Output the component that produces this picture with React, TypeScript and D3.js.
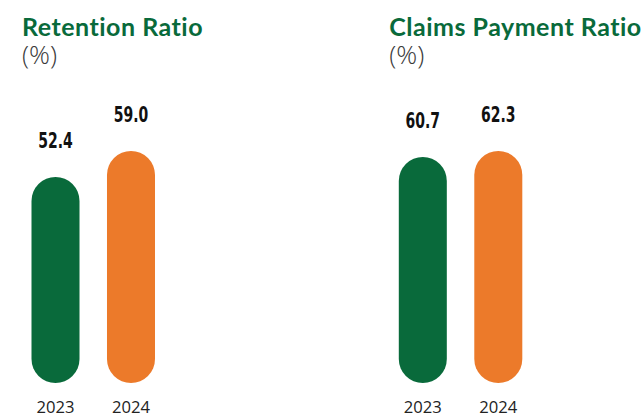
import React from "react";
import * as d3 from "d3";

const years = ["2023", "2024"];
const retentionValues = [52.4, 59.0];
const claimsValues = [60.7, 62.3];
const panelTitles = ["Retention Ratio", "Claims Payment Ratio"];
const unitLabel = "(%)";

const GREEN = "#096a3b";
const ORANGE = "#ec7a2a";
const barColors = [GREEN, ORANGE];

const W = 642;
const H = 415;

type PanelProps = { x0: number; title: string; values: number[] };

function Panel({ x0, title, values }: PanelProps) {
  const x = d3
    .scaleBand<string>()
    .domain(years)
    .range([x0 + 9.5, x0 + 133])
    .paddingInner(0.364)
    .paddingOuter(0);
  const y = d3
    .scaleLinear()
    .domain([0, d3.max(values) as number])
    .range([383, 151]);
  const bw = x.bandwidth();
  return (
    <g>
      <text
        x={x0}
        y={36}
        fill={GREEN}
        fontFamily="Lato, 'Open Sans', sans-serif"
        fontWeight={700}
        fontSize={25}
        letterSpacing={0.5}
      >
        {title}
      </text>
      <text
        x={x0}
        y={64}
        fill="#3a3a3a"
        fontFamily="'Open Sans', Lato, sans-serif"
        fontWeight={300}
        fontSize={25}
        textLength={35}
        lengthAdjust="spacingAndGlyphs"
      >
        {unitLabel}
      </text>
      {years.map((yr, i) => {
        const v = values[i];
        const bx = x(yr) as number;
        const top = y(v);
        return (
          <g key={yr}>
            <rect
              x={bx}
              y={top}
              width={bw}
              height={y(0) - top}
              rx={bw / 2}
              ry={bw / 2}
              fill={barColors[i]}
            />
            <text
              x={bx + bw / 2}
              y={top - 28.7}
              textAnchor="middle"
              fontFamily="'DejaVu Sans Condensed', 'DejaVu Sans', sans-serif"
              fontWeight={700}
              fontSize={21.5}
              textLength={34.5}
              lengthAdjust="spacingAndGlyphs"
              fill="#111"
            >
              {v.toFixed(1)}
            </text>
            <text
              x={bx + bw / 2}
              y={413}
              textAnchor="middle"
              fontFamily="'Open Sans', Lato, sans-serif"
              fontSize={17}
              textLength={38}
              lengthAdjust="spacingAndGlyphs"
              fill="#222"
            >
              {yr}
            </text>
          </g>
        );
      })}
    </g>
  );
}

export default function App() {
  return (
    <svg
      width={W}
      height={H}
      style={{ position: "absolute", left: 0, top: 0, background: "#fff" }}
    >
      <Panel x0={22} title={panelTitles[0]} values={retentionValues} />
      <Panel x0={389.3} title={panelTitles[1]} values={claimsValues} />
    </svg>
  );
}
